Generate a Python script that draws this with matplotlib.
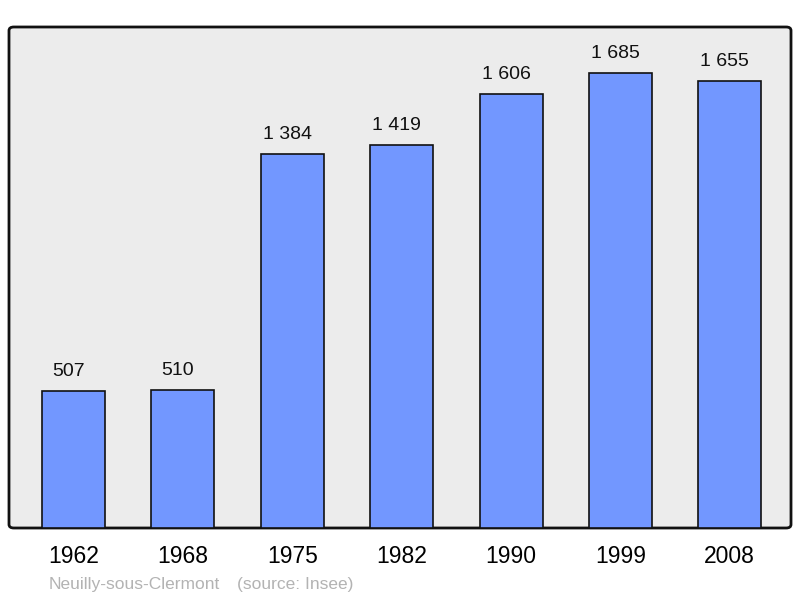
import matplotlib.pyplot as plt
from matplotlib.patches import FancyBboxPatch

years = ['1962', '1968', '1975', '1982', '1990', '1999', '2008']
population = [507, 510, 1384, 1419, 1606, 1685, 1655]

plt.rcParams['font.family'] = ['Liberation Sans', 'DejaVu Sans']

fig = plt.figure(figsize=(8, 5.98), dpi=100)
ax = fig.add_axes([9 / 800, 1 - 528 / 598, 782 / 800, 501 / 598])
ax.set_facecolor('none')

# grey rounded frame behind the axes
frame = FancyBboxPatch((9 / 800, 1 - 528 / 598), 782 / 800, 501 / 598,
                       boxstyle='round,pad=0,rounding_size=0.006',
                       transform=fig.transFigure, facecolor='#ececec',
                       edgecolor='#111111', linewidth=2, zorder=-1)
fig.patches.append(frame)

x = range(len(years))
ax.bar(x, population, width=0.576, color='#7297ff', edgecolor='#111111',
       linewidth=1.2, zorder=2)

# value labels sit a little left of the bar centre, like the original
for i, v in enumerate(population):
    label = f'{v:,}'.replace(',', ' ')
    ax.text(i - 0.045, v + 55, label, ha='center', va='baseline', fontsize=14,
            color='#111111')

ax.set_xlim(-0.59, 6.56)
ax.set_ylim(0, 1855)
ax.set_xticks(list(x))
ax.set_xticklabels(years, fontsize=16.5)
ax.tick_params(axis='x', length=0, pad=12)
ax.set_yticks([])
for s in ax.spines.values():
    s.set_visible(False)

fig.text(49 / 800, 1 - 589 / 598, 'Neuilly-sous-Clermont', fontsize=12.5, color='#b3b3b3',
         ha='left', va='baseline')
fig.text(237 / 800, 1 - 589 / 598, '(source: Insee)', fontsize=12.5, color='#b3b3b3',
         ha='left', va='baseline')

fig.savefig('out.png', dpi=100)
